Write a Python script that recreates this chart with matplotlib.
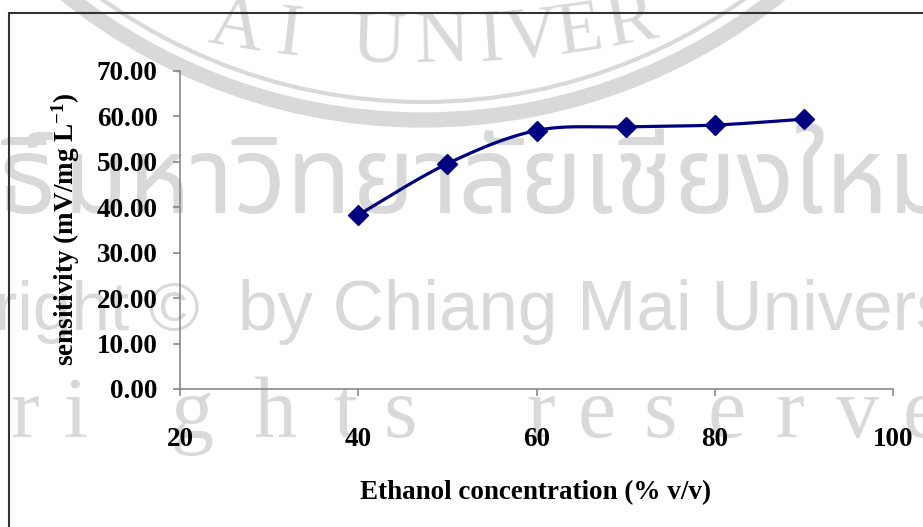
import numpy as np
import matplotlib
matplotlib.use("Agg")
import matplotlib.pyplot as plt
from matplotlib import font_manager as fm
from matplotlib.patches import Circle, Rectangle

# ---- data -------------------------------------------------------------
ethanol = [40, 50, 60, 70, 80, 90]                       # % v/v
sensitivity = [38.3, 49.6, 56.9, 57.7, 58.1, 59.4]       # mV/mg L-1
x_ticks = [20, 40, 60, 80, 100]
y_ticks = [0, 10, 20, 30, 40, 50, 60, 70]
x_title = "Ethanol concentration (% v/v)"
y_title = "sensitivity (mV/mg L$^{-1}$)"

# ---- style ------------------------------------------------------------
plt.rcParams.update({
    "font.family": ["Liberation Serif", "DejaVu Serif"],
    "font.weight": "bold",
    "mathtext.fontset": "custom",
    "mathtext.rm": "Liberation Serif:bold",
    "mathtext.it": "Liberation Serif:italic:bold",
    "mathtext.bf": "Liberation Serif:bold",
})

W, H = 923, 527
fig = plt.figure(figsize=(W / 100, H / 100), dpi=100)

# ---- background watermark (pixel coordinates) ------------------------
wm = fig.add_axes([0, 0, 1, 1], zorder=0)
wm.set_xlim(0, W)
wm.set_ylim(H, 0)
wm.axis("off")
wm_col = "#d9d9d9"

# seal rings
wm.add_patch(Circle((423, -451), 571, fill=False, lw=11, ec=wm_col))
wm.add_patch(Circle((423, -451), 553, fill=False, lw=3, ec=wm_col))

# seal lettering along an arc
seal_letters = list("AIUNIVER")
seal_x = [233, 287, 377, 443, 492, 533, 583, 635]
arc_cx, arc_cy, arc_r = 420, -1088, 1150
for ch, lx in zip(seal_letters, seal_x):
    dx = lx - arc_cx
    ly = arc_cy + np.sqrt(arc_r ** 2 - dx ** 2)
    rot = np.degrees(np.arcsin(dx / arc_r))
    wm.text(lx, ly, ch, color=wm_col, fontsize=54, fontweight="normal",
            family="Liberation Serif", ha="center", va="baseline",
            rotation=rot, rotation_mode="anchor")

# Thai line, only when a Thai-capable face is available
names = {f.name for f in fm.fontManager.ttflist}
thai_faces = [n for n in ("Noto Sans Thai", "Noto Serif Thai", "Loma", "Garuda",
                          "Kinnari", "Norasi", "Waree", "Sawasdee", "Umpush",
                          "Laksaman", "Tlwg Typo", "Purisa") if n in names]
if thai_faces:
    wm.text(62, 213, "มหาวิทยาลัยเชียงใหม่", color=wm_col, fontsize=77,
            family=thai_faces[0], fontweight="bold", ha="left", va="baseline")
    wm.text(57, 213, "ลิขสิทธิ์", color=wm_col, fontsize=77,
            family=thai_faces[0], fontweight="bold", ha="right", va="baseline")

# copyright line
wm.text(200, 330, "Copyright \u00a9", color=wm_col, fontsize=50,
        family="Liberation Sans", fontweight="normal", ha="right", va="baseline")
wm.text(238, 330, "by Chiang Mai University", color=wm_col, fontsize=51,
        family="Liberation Sans", fontweight="normal", ha="left", va="baseline")

# spaced "rights reserved" line
spaced = list("rightsreserved")
spaced_x = [25, 75, 192, 275, 345, 400, 541, 597, 660, 727, 790, 857, 922, 990]
for ch, lx in zip(spaced, spaced_x):
    wm.text(lx, 437, ch, color=wm_col, fontsize=62, family="Liberation Serif",
            fontweight="normal", ha="center", va="baseline")

# outer frame
fig.add_artist(Rectangle((9 / W, -0.1), 1.2, (1 - 13 / H) + 0.1,
                         transform=fig.transFigure, fill=False,
                         lw=1.5, ec="#333333", zorder=1))


# ---- smoothed series (cubic Bezier through the points) ---------------
def smooth_curve(xs, ys, n=40):
    pts = np.column_stack([xs, ys]).astype(float)
    padded = np.vstack([pts[0], pts, pts[-1]])
    t = np.linspace(0, 1, n)[:, None]
    parts = []
    for i in range(len(pts) - 1):
        p0, p1, p2, p3 = padded[i], padded[i + 1], padded[i + 2], padded[i + 3]
        c1 = p1 + (p2 - p0) / 6.0
        c2 = p2 - (p3 - p1) / 6.0
        seg = ((1 - t) ** 3) * p1 + 3 * ((1 - t) ** 2) * t * c1 \
            + 3 * (1 - t) * t ** 2 * c2 + t ** 3 * p2
        parts.append(seg if i == 0 else seg[1:])
    curve = np.vstack(parts)
    return curve[:, 0], curve[:, 1]


# ---- main chart -------------------------------------------------------
ax = fig.add_axes([180 / W, 1 - 389 / H, 713 / W, 318 / H], zorder=2)
ax.patch.set_alpha(0)

sx, sy = smooth_curve(ethanol, sensitivity)
ax.plot(sx, sy, color="#000080", lw=2.3, solid_capstyle="round", zorder=3)
ax.plot(ethanol, sensitivity, linestyle="none", marker="D", markersize=10,
        color="#000080", markeredgecolor="#000080", clip_on=False, zorder=4)

ax.set_xlim(20, 100)
ax.set_ylim(0, 70)
ax.set_xticks(x_ticks)
ax.set_xticklabels([str(v) for v in x_ticks])
ax.set_yticks(y_ticks)
ax.set_yticklabels([f"{v:.2f}" for v in y_ticks])

for side in ("top", "right"):
    ax.spines[side].set_visible(False)
for side in ("left", "bottom"):
    ax.spines[side].set_color("#808080")
    ax.spines[side].set_linewidth(1.1)

ax.tick_params(axis="both", direction="out", length=5, width=1.1,
               color="#808080", labelsize=19.5, labelcolor="black")
ax.tick_params(axis="y", pad=11)
ax.tick_params(axis="x", pad=22)
for lab in ax.get_xticklabels() + ax.get_yticklabels():
    lab.set_fontweight("bold")

fig.text(536 / W, 1 - 493 / H, x_title, fontsize=19.5, fontweight="bold",
         ha="center", va="center")
fig.text(66 / W, 1 - 229 / H, y_title, fontsize=19.5, fontweight="bold",
         ha="center", va="center", rotation=90)

fig.savefig("out.png", dpi=100)
